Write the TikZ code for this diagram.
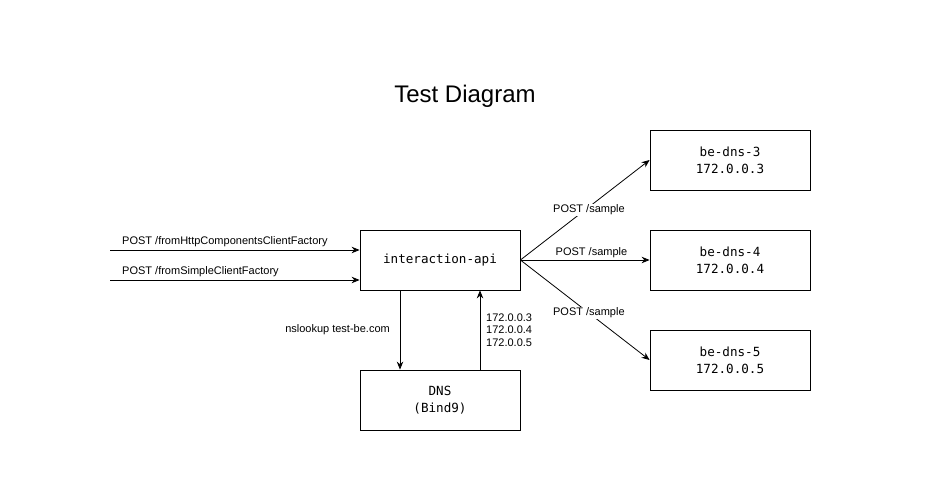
\documentclass[tikz,border=0pt]{standalone}
\usepackage{fontspec}
\setmainfont{Liberation Sans}
\setmonofont{DejaVu Sans Mono}
\usetikzlibrary{arrows.meta}
\begin{document}
\begin{tikzpicture}[x=1pt,y=-1pt,
  box/.style={draw,line width=0.8pt,minimum width=160pt,minimum height=60pt,inner sep=0pt,align=center,font=\ttfamily\fontsize{12.6}{17}\selectfont},
  conn/.style={line width=0.8pt,-{Stealth[length=8pt,width=6.5pt]}},
  lbl/.style={font=\fontsize{11}{12.5}\selectfont,inner sep=1pt},
  bglbl/.style={lbl,fill=white}]
\useasboundingbox (0,0) rectangle (931,481);
\node[font=\fontsize{24}{28}\selectfont] (title) at (465,96) {Test Diagram};
\node[box] (api) at (440,260) {interaction-api};
\node[box] (dns) at (440,400) {DNS\\(Bind9)};
\node[box] (b3) at (730,160) {be-dns-3\\172.0.0.3};
\node[box] (b4) at (730,260) {be-dns-4\\172.0.0.4};
\node[box] (b5) at (730,360) {be-dns-5\\172.0.0.5};
\coordinate (s1) at (110,250);
\coordinate (s2) at (110,280);
\draw[conn] (s1) -- (s1 -| api.west);
\draw[conn] (s2) -- (s2 -| api.west);
\node[lbl,anchor=south west] (l1) at (121,248) {POST /fromHttpComponentsClientFactory};
\node[lbl,anchor=south west] (l2) at (121,278) {POST /fromSimpleClientFactory};
\draw[conn] ([xshift=-40pt]api.south) -- ([xshift=-40pt]dns.north);
\draw[conn] ([xshift=40pt]dns.north) -- ([xshift=40pt]api.south);
\node[lbl,anchor=east] (nl) at (391,330) {nslookup test-be.com};
\node[lbl,anchor=west,align=left] (ips) at (485,330) {172.0.0.3\\172.0.0.4\\172.0.0.5};
\draw[conn] (api.east) -- (b3.west) node[bglbl,pos=0.5,xshift=4pt] (p3) {POST /sample};
\draw[conn] (api.east) -- (b4.west) node[lbl,pos=0.55,above=1pt] (p4) {POST /sample};
\draw[conn] (api.east) -- (b5.west) node[bglbl,pos=0.53] (p5) {POST /sample};
\end{tikzpicture}
\end{document}
